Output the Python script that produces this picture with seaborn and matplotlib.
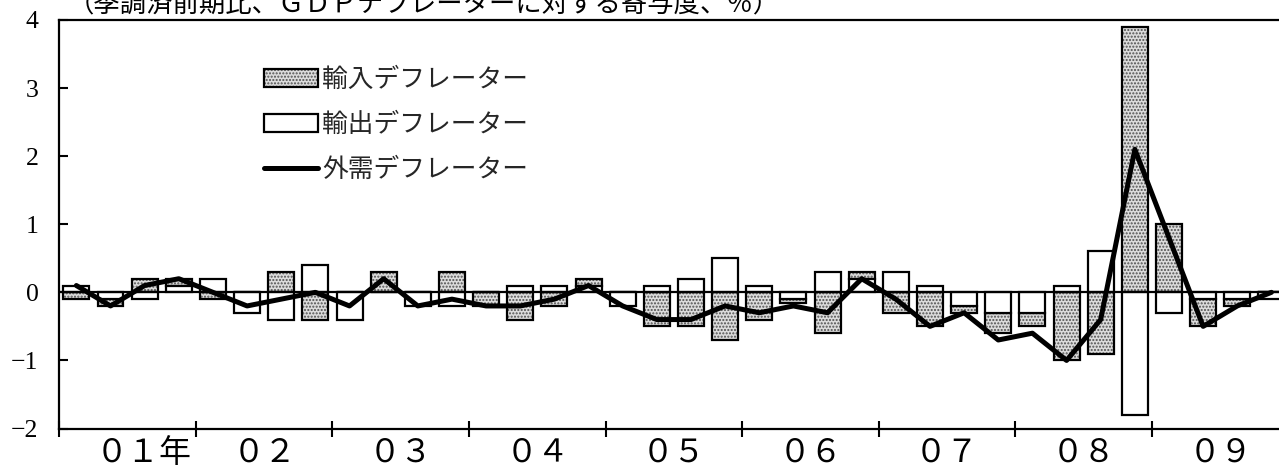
import numpy as np
import matplotlib
matplotlib.use("Agg")
import matplotlib.pyplot as plt
from matplotlib.patches import Patch
from matplotlib.lines import Line2D
import seaborn as sns

# ---- data (quarterly, 2001Q1 - 2009Q4), contribution to GDP deflator, % ----
quarters = [
    "01Q1", "01Q2", "01Q3", "01Q4", "02Q1", "02Q2", "02Q3", "02Q4",
    "03Q1", "03Q2", "03Q3", "03Q4", "04Q1", "04Q2", "04Q3", "04Q4",
    "05Q1", "05Q2", "05Q3", "05Q4", "06Q1", "06Q2", "06Q3", "06Q4",
    "07Q1", "07Q2", "07Q3", "07Q4", "08Q1", "08Q2", "08Q3", "08Q4",
    "09Q1", "09Q2", "09Q3", "09Q4",
]
export_deflator = [
    0.1, -0.1, -0.1, 0.1, 0.2, -0.3, -0.4, 0.4,
    -0.4, 0.0, -0.2, -0.2, 0.0, 0.1, 0.1, 0.1,
    -0.2, 0.1, 0.2, 0.5, 0.1, -0.1, 0.3, 0.2,
    0.3, 0.1, -0.2, -0.3, -0.3, 0.1, 0.6, -1.8,
    -0.3, -0.1, -0.1, -0.1,
]
import_deflator = [
    -0.1, -0.1, 0.2, 0.1, -0.1, 0.0, 0.3, -0.4,
    0.0, 0.3, 0.0, 0.3, -0.2, -0.4, -0.2, 0.1,
    0.0, -0.5, -0.5, -0.7, -0.4, -0.05, -0.6, 0.1,
    -0.3, -0.5, -0.1, -0.3, -0.2, -1.0, -0.9, 3.9,
    1.0, -0.4, -0.1, 0.0,
]
external_deflator = [
    0.1, -0.2, 0.1, 0.2, 0.0, -0.2, -0.1, 0.0,
    -0.2, 0.2, -0.2, -0.1, -0.2, -0.2, -0.1, 0.1,
    -0.2, -0.4, -0.4, -0.2, -0.3, -0.2, -0.3, 0.2,
    -0.1, -0.5, -0.3, -0.7, -0.6, -1.0, -0.4, 2.1,
    0.8, -0.5, -0.2, 0.0,
]
year_labels = ["０１年", "０２", "０３", "０４", "０５", "０６", "０７", "０８", "０９"]
y_tick_values = [-2, -1, 0, 1, 2, 3, 4]
y_tick_labels = ["\u22122", "\u22121", "0", "1", "2", "3", "4"]
series_names = ["輸入デフレーター", "輸出デフレーター", "外需デフレーター"]
title_text = "（季調済前期比、ＧＤＰデフレーターに対する寄与度、％）"

# ---- style ----
sns.set_theme(style="white")
plt.rcParams["font.family"] = ["Noto Sans CJK JP", "DejaVu Sans"]
plt.rcParams["hatch.linewidth"] = 1.0

W, H = 1279, 472
fig = plt.figure(figsize=(W / 100, H / 100), dpi=100)
left_px, right_px, top_px, bottom_px = 59.3, 1288.5, 20.0, 428.5
ax = fig.add_axes([left_px / W, 1 - bottom_px / H,
                   (right_px - left_px) / W, (bottom_px - top_px) / H])

n = len(quarters)
x = np.arange(n) + 0.5
exp_v = np.array(export_deflator)
imp_v = np.array(import_deflator)
imp_bottom = np.where(np.sign(imp_v) == np.sign(exp_v), exp_v, 0.0)
bw = 0.76
fill_c, dot_c = "#dcdcdc", "#505050"

# import bars: dotted fill + black outline
ax.bar(x, imp_v, bw, bottom=imp_bottom, color=fill_c, edgecolor=dot_c,
       hatch=".....", linewidth=0, zorder=2)
ax.bar(x, imp_v, bw, bottom=imp_bottom, fill=False, edgecolor="black",
       linewidth=1.6, zorder=3)
# export bars: white
ax.bar(x, exp_v, bw, color="white", edgecolor="black", linewidth=1.6, zorder=3)

ax.axhline(0, color="black", linewidth=1.6, zorder=4)

sns.lineplot(x=x, y=external_deflator, ax=ax, color="black", linewidth=3.6,
             zorder=5, legend=False)

ax.set_xlim(0, n)
ax.set_ylim(-2, 4)
ax.set_xlabel("")
ax.set_ylabel("")

for side in ["left", "top", "bottom", "right"]:
    ax.spines[side].set_color("black")
    ax.spines[side].set_linewidth(1.6)

ax.set_yticks(y_tick_values)
ax.set_yticklabels(y_tick_labels, fontfamily="Liberation Serif", fontsize=18.5)
ax.tick_params(axis="y", which="major", left=True, direction="in", length=6.5,
               width=1.5, pad=15, colors="black")

ax.set_xticks(np.arange(0, n + 1, 4))
ax.set_xticklabels([])
ax.tick_params(axis="x", which="major", bottom=True, direction="inout",
               length=11.5, width=1.5, color="black")
label_pos = [2.46] + [4 * k + 2 for k in range(1, 9)]
ax.set_xticks(label_pos, minor=True)
ax.set_xticklabels(year_labels, minor=True, fontsize=23)
ax.tick_params(axis="x", which="minor", bottom=True, length=0, pad=6,
               labelcolor="black")

imp_handle = (Patch(facecolor=fill_c, edgecolor=dot_c, hatch=".....", linewidth=0),
              Patch(fill=False, edgecolor="black", linewidth=1.6))
exp_handle = Patch(facecolor="white", edgecolor="black", linewidth=1.6)
line_handle = Line2D([0], [0], color="black", linewidth=3.6)
ax.legend([imp_handle, exp_handle, line_handle], series_names,
          loc="upper left", bbox_to_anchor=(0.1666, 0.885), frameon=False,
          fontsize=18.5, handlelength=2.1, handleheight=0.7, handletextpad=0.15,
          labelspacing=0.74, borderpad=0, borderaxespad=0)

fig.text(424 / W, 1 - 5 / H, title_text, ha="center", va="center",
         fontsize=19, color="black")

fig.savefig("out.png", dpi=100)
